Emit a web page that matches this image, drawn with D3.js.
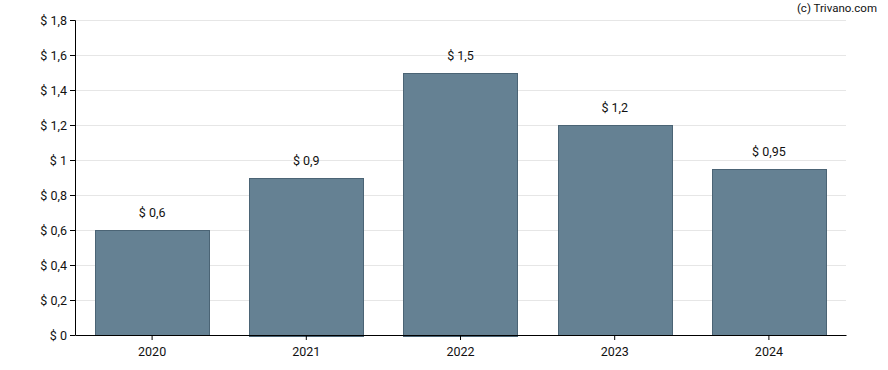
<!DOCTYPE html>
<html>
<head>
<meta charset="utf-8">
<script src="https://cdn.jsdelivr.net/npm/d3@7"></script>
<style>
  body { margin: 0; background: #fff; }
  text { font-family: Roboto, "Liberation Sans", sans-serif; }
</style>
</head>
<body>
<div id="chart"></div>
<script>
var years = ['2020', '2021', '2022', '2023', '2024'];
var dividends = [0.6, 0.9, 1.5, 1.2, 0.95];
var yTicks = [0, 0.2, 0.4, 0.6, 0.8, 1, 1.2, 1.4, 1.6, 1.8];

var margin = { left: 75, right: 42, top: 20, bottom: 35 };
var width = 888 - margin.left - margin.right;
var height = 370 - margin.top - margin.bottom;

var fmt = function(v) { return '$ ' + String(v).replace('.', ','); };

var svg = d3.select('#chart')
	.append('svg')
		.attr('width', 888)
		.attr('height', 370);

var g = svg.append('g')
	.attr('transform', 'translate(' + margin.left + ',' + margin.top + ')');

var x = d3.scaleBand()
	.domain(years)
	.range([0, width])
	.paddingInner(0.26)
	.paddingOuter(0.13);

var y = d3.scaleLinear()
	.domain([0, 1.8])
	.range([height, 0]);

// gridlines
g.selectAll('.grid')
	.data(yTicks.slice(1))
	.enter()
	.append('line')
		.attr('x1', 0)
		.attr('x2', width)
		.attr('y1', function(d) { return Math.round(y(d)) + 0.5; })
		.attr('y2', function(d) { return Math.round(y(d)) + 0.5; })
		.attr('stroke', '#e6e6e6')
		.attr('stroke-width', 1);

var data = years.map(function(yr, i) { return { year: yr, value: dividends[i] }; });

g.selectAll('.bar')
	.data(data)
	.enter()
	.append('rect')
		.attr('x', function(d) { return Math.round(x(d.year)) + 0.5; })
		.attr('y', function(d) { return Math.round(y(d.value)) + 0.5; })
		.attr('width', Math.round(x.bandwidth()))
		.attr('height', function(d) { return Math.round(height - y(d.value)); })
		.attr('fill', '#658193')
		.attr('stroke', '#4b6475')
		.attr('stroke-width', 1);

g.selectAll('.label')
	.data(data)
	.enter()
	.append('text')
		.attr('x', function(d) { return x(d.year) + x.bandwidth() / 2; })
		.attr('y', function(d) { return y(d.value) - 13; })
		.attr('text-anchor', 'middle')
		.attr('font-size', 12.5)
		.attr('fill', '#111')
		.text(function(d) { return fmt(d.value); });

var yAxis = g.append('g')
	.call(d3.axisLeft(y).tickValues(yTicks).tickSize(5).tickFormat(fmt));
yAxis.selectAll('text').attr('font-size', 12.5).attr('fill', '#111').attr('font-family', 'Roboto, sans-serif');
yAxis.selectAll('line, path').attr('stroke', '#000');
yAxis.select('.domain').attr('d', 'M-5,0.5H0.5V' + (height + 0.5));

var xAxis = g.append('g')
	.attr('transform', 'translate(0,' + height + ')')
	.call(d3.axisBottom(x).tickSize(5).tickSizeOuter(0));
xAxis.selectAll('text').attr('font-size', 12.5).attr('fill', '#111').attr('dy', '1.0em').attr('font-family', 'Roboto, sans-serif');
xAxis.selectAll('line, path').attr('stroke', '#000');

svg.append('text')
	.attr('x', 877)
	.attr('y', 12)
	.attr('text-anchor', 'end')
	.attr('font-size', 11.5)
	.attr('fill', '#111')
	.text('(c) Trivano.com');
</script>
</body>
</html>
